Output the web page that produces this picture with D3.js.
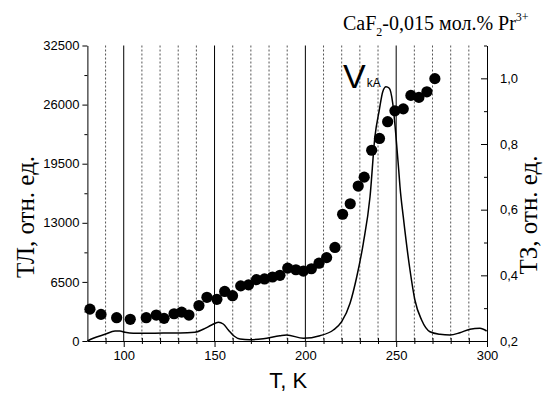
<!DOCTYPE html>
<html>
<head>
<meta charset="utf-8">
<script src="https://cdn.jsdelivr.net/npm/d3@7"></script>
<style>
  body { margin: 0; background: #fff; }
  svg { display: block; }
  .axis path, .axis line { stroke: #000; stroke-width: 1; }
  .axis text { font-family: "Liberation Sans", Arial, sans-serif; font-size: 13px; fill: #000; }
</style>
</head>
<body>
<div id="chart"></div>
<script>
// TZ dots (right axis), T in K
const dotT = [81.4, 87.5, 96.1, 103.6, 112.4, 117.9, 122.2, 127.7, 131.9, 135.9,
    141.4, 145.8, 151.3, 155.6, 159.9, 164.4, 168.7, 173.1, 177.5, 181.9,
    186.0, 190.3, 194.8, 198.9, 203.3, 207.5, 211.7, 216.3, 220.5, 224.7,
    229.1, 232.4, 236.5, 240.8, 245.3, 249.3, 253.9, 258.1, 262.5, 266.9, 271.3];
const dotTZ = [0.297, 0.281, 0.271, 0.266, 0.271, 0.279, 0.269, 0.283, 0.288, 0.279,
    0.308, 0.333, 0.327, 0.351, 0.338, 0.368, 0.371, 0.387, 0.389, 0.395,
    0.400, 0.422, 0.417, 0.413, 0.420, 0.437, 0.454, 0.485, 0.586, 0.618,
    0.672, 0.699, 0.781, 0.817, 0.868, 0.901, 0.907, 0.948, 0.942, 0.959, 0.999];

// TL curve (left axis)
const lineT = [80, 83.2, 89.7, 95.2, 97.9, 100.7, 105.3, 112.6, 121.8, 131, 139.2,
    143.8, 148.4, 152.1, 154.8, 157.6, 160.7, 164, 169.5, 176.8, 186, 189.7,
    198.9, 208, 215.4, 220, 224.6, 228.3, 231.9, 235.6, 238.3, 240.7, 242.6,
    244.4, 246.2, 248.1, 249.9, 251.4, 252.1, 253.9, 257.6, 260.3, 264, 268.6,
    274.1, 279.6, 285.1, 290.6, 296.1, 299.8];
const lineTL = [0, 300, 740, 1100, 1100, 960, 850, 850, 880, 880, 960,
    1290, 1760, 2060, 1870, 1210, 550, 220, 140, 250, 580, 660,
    300, 580, 1210, 2120, 4150, 7070, 10750, 15870, 22470, 25400, 27420,
    27970, 27800, 26150, 22470, 18810, 16970, 13670, 7810, 4510, 2310, 1020,
    740, 660, 910, 1290, 1400, 1100];

const xMajor = [100, 150, 200, 250, 300];
const xMinor = [90, 110, 120, 130, 140, 160, 170, 180, 190, 210, 220, 230, 240, 260, 270, 280, 290];
const yLeftMajor = [0, 6500, 13000, 19500, 26000, 32500];
const yLeftMinor = [3250, 9750, 16250, 22750, 29250];
const yRightMajor = [0.2, 0.4, 0.6, 0.8, 1.0];
const yRightMinor = [0.3, 0.5, 0.7, 0.9, 1.1];

const W = 546, H = 400;
const margin = {top: 45.5, right: 59, bottom: 59, left: 87.4};
const width = W - margin.left - margin.right;
const height = H - margin.top - margin.bottom;

const svg = d3.select("#chart").append("svg")
    .attr("width", W)
    .attr("height", H);

const g = svg.append("g")
    .attr("transform", `translate(${margin.left},${margin.top})`);

const x = d3.scaleLinear().domain([80, 300]).range([0, width]);
const yL = d3.scaleLinear().domain([0, 32500]).range([height, 0]);
const yR = d3.scaleLinear().domain([0.2, 1.1]).range([height, 0]);

// vertical grid lines
g.selectAll(".grid-minor").data(xMinor).enter().append("line")
    .attr("x1", d => x(d)).attr("x2", d => x(d))
    .attr("y1", 0).attr("y2", height)
    .attr("stroke", "#555").attr("stroke-width", 1)
    .attr("stroke-dasharray", "2,2");
g.selectAll(".grid-major").data(xMajor.filter(d => d < 300)).enter().append("line")
    .attr("x1", d => x(d)).attr("x2", d => x(d))
    .attr("y1", 0).attr("y2", height)
    .attr("stroke", "#000").attr("stroke-width", 1);

// TL line
const line = d3.line()
    .x((d, i) => x(lineT[i]))
    .y(d => yL(d))
    .curve(d3.curveMonotoneX);
g.append("path")
    .datum(lineTL)
    .attr("d", line)
    .attr("fill", "none")
    .attr("stroke", "#000")
    .attr("stroke-width", 1.5);

// TZ dots
g.selectAll("circle").data(dotTZ).enter().append("circle")
    .attr("cx", (d, i) => x(dotT[i]))
    .attr("cy", d => yR(d))
    .attr("r", 5.6)
    .attr("fill", "#000");

// axes
const fmtComma = d => d3.format(".1f")(d).replace(".", ",");

g.append("g").attr("class", "axis")
    .attr("transform", `translate(0,${height})`)
    .call(d3.axisBottom(x).tickValues(xMajor).tickSize(6).tickPadding(4).tickSizeOuter(0));
g.append("g").attr("class", "axis")
    .attr("transform", `translate(0,${height + 3})`)
    .call(d3.axisBottom(x).tickValues(xMinor).tickSize(6).tickFormat("").tickSizeOuter(0))
    .call(a => a.select(".domain").remove())
    .selectAll(".tick line").attr("y1", -6).attr("y2", 0);

g.append("g").attr("class", "axis")
    .call(d3.axisLeft(yL).tickValues(yLeftMajor).tickSize(5).tickPadding(3)
        .tickFormat(d3.format("d")).tickSizeOuter(0));
g.append("g").attr("class", "axis")
    .call(d3.axisLeft(yL).tickValues(yLeftMinor).tickSize(3).tickFormat("").tickSizeOuter(0))
    .call(a => a.select(".domain").remove());

g.append("g").attr("class", "axis")
    .attr("transform", `translate(${width},0)`)
    .call(d3.axisRight(yR).tickValues(yRightMajor).tickSize(-6).tickPadding(13).tickFormat(fmtComma).tickSizeOuter(0));
g.append("g").attr("class", "axis")
    .attr("transform", `translate(${width},0)`)
    .call(d3.axisRight(yR).tickValues(yRightMinor).tickSize(-3).tickFormat("").tickSizeOuter(0))
    .call(a => a.select(".domain").remove());

// axis titles
svg.append("text")
    .attr("x", margin.left + width / 2 + 1)
    .attr("y", 388)
    .attr("text-anchor", "middle")
    .style("font-family", "Liberation Sans, Arial, sans-serif")
    .style("font-size", "22px")
    .text("T, K");

svg.append("text")
    .attr("transform", "translate(34,217) rotate(-90)")
    .attr("text-anchor", "middle")
    .style("font-family", "Liberation Serif, Times New Roman, serif")
    .style("font-size", "25px")
    .text("ТЛ, отн. ед.");

svg.append("text")
    .attr("transform", "translate(537,215) rotate(-90)")
    .attr("text-anchor", "middle")
    .style("font-family", "Liberation Serif, Times New Roman, serif")
    .style("font-size", "25px")
    .text("ТЗ, отн. ед.");

// title
const title = svg.append("text")
    .attr("x", 343)
    .attr("y", 30)
    .style("font-family", "Liberation Serif, Times New Roman, serif")
    .style("font-size", "20px");
title.append("tspan").text("CaF");
title.append("tspan").attr("dy", 6).style("font-size", "12px").text("2");
title.append("tspan").attr("dy", -6).text("-0,015 мол.% Pr");
title.append("tspan").attr("dy", -9).style("font-size", "12px").text("3+");

// peak label
const vka = svg.append("text")
    .attr("x", 343)
    .attr("y", 88)
    .style("font-family", "Liberation Sans, Arial, sans-serif")
    .style("font-size", "34px");
vka.append("tspan").text("V");
vka.append("tspan").attr("dx", 1).attr("dy", -1).style("font-size", "12px").text("kA");
</script>
</body>
</html>
